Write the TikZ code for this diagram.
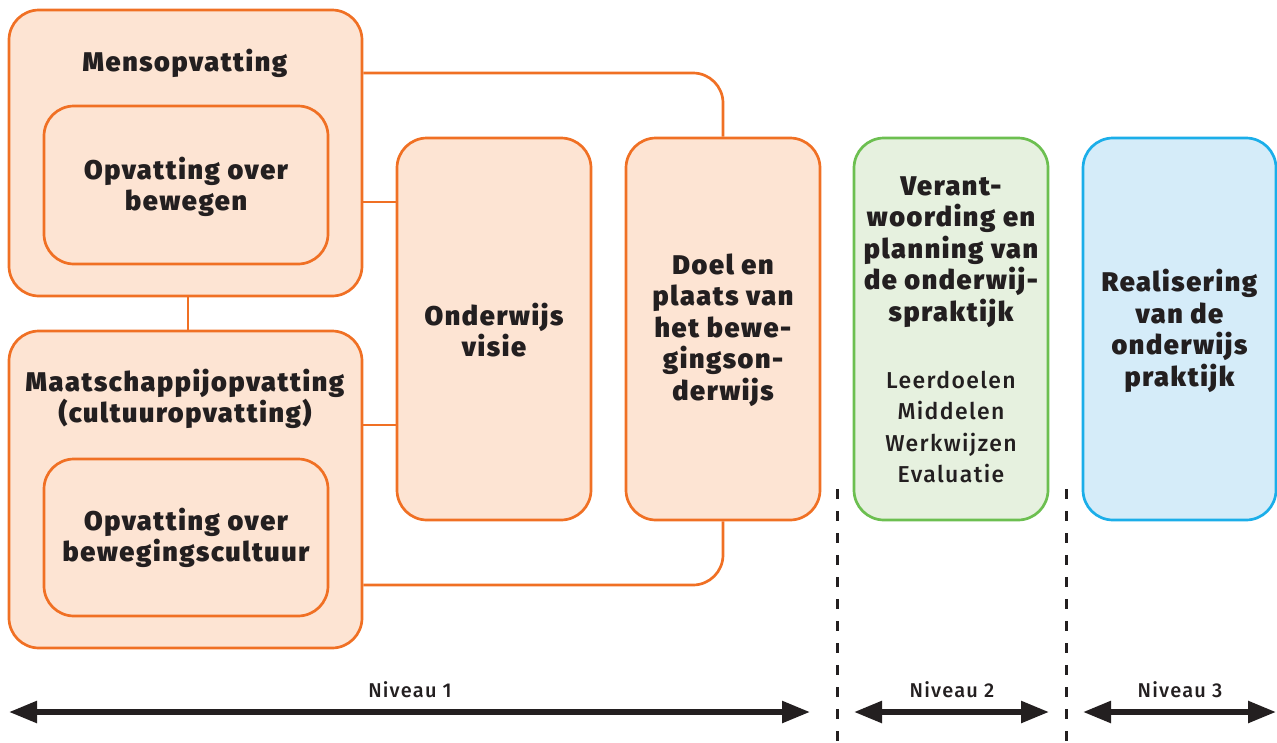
\documentclass[tikz,border=0pt]{standalone}
\usepackage{fontspec}
\setmainfont{Fira Sans}[LetterSpace=6, UprightFont={Fira Sans Medium}, BoldFont={Fira Sans Black}]
\usetikzlibrary{arrows.meta}
\definecolor{ostroke}{HTML}{F07024}
\definecolor{ofill}{HTML}{FDE4D3}
\definecolor{gstroke}{HTML}{6CBF50}
\definecolor{gfill}{HTML}{E6F1DF}
\definecolor{bstroke}{HTML}{1BAEE9}
\definecolor{bfill}{HTML}{D5ECF9}
\definecolor{ink}{HTML}{231F20}
\tikzset{
  box/.style={draw=ostroke, fill=ofill, line width=2.7pt, rounded corners=30pt, inner sep=0pt},
  conn/.style={draw=ostroke, line width=2.7pt},
  title/.style={font=\fontsize{27}{31.5}\selectfont\bfseries, text=ink, align=center},
  plain/.style={font=\fontsize{23}{31.5}\selectfont, text=ink, align=center},
  niv/.style={font=\fontsize{20}{22}\selectfont, text=ink},
  divider/.style={draw=ink, line width=3pt, dash pattern=on 10pt off 12pt},
  span/.style={draw=ink, line width=5.5pt, {Triangle[length=28pt,width=21pt]}-{Triangle[length=28pt,width=21pt]}}
}
\begin{document}
\begin{tikzpicture}[x=1pt,y=-1pt]
\useasboundingbox (0,0) rectangle (1277,742);
% main boxes
\node[box, minimum width=353pt, minimum height=286pt] (mens) at (185.5,153) {};
\node[box, minimum width=284pt, minimum height=158pt] (inner1) at (186,185) {};
\node[box, minimum width=353pt, minimum height=317pt] (maat) at (185.5,489.5) {};
\node[box, minimum width=284pt, minimum height=157pt] (inner2) at (186,537.5) {};
\node[box, minimum width=194pt, minimum height=382pt] (visie) at (494,329) {};
\node[box, minimum width=194pt, minimum height=382pt] (doel) at (723,329) {};
\node[box, draw=gstroke, fill=gfill, minimum width=194pt, minimum height=382pt] (verant) at (951,329) {};
\node[box, draw=bstroke, fill=bfill, minimum width=193pt, minimum height=382pt] (real) at (1179.5,329) {};
% texts
\node[title] (tmens) at (185,63) {Mensopvatting};
\node[title] (tin1) at (186,187) {Opvatting over\\bewegen};
\node[title] (tmaat) at (185,399) {Maatschappijopvatting\\(cultuuropvatting)};
\node[title] (tin2) at (186,538) {Opvatting over\\bewegingscultuur};
\node[title] (tvisie) at (494,330) {Onderwijs\\visie};
\node[title] (tdoel) at (723,330) {Doel en\\plaats van\\het bewe-\\gingson-\\derwijs};
\node[title] (tverant) at (951,252) {Verant-\\woording en\\planning van\\de onderwij-\\spraktijk};
\node[plain] (tlist) at (951,427) {Leerdoelen\\Middelen\\Werkwijzen\\Evaluatie};
\node[title] (treal) at (1179.5,331) {Realisering\\van de\\onderwijs\\praktijk};
% connectors
\draw[conn, rounded corners=30pt] (mens.east |- 0,73) -| (doel.north);
\draw[conn] (mens.east |- 0,202) -- (visie.west |- 0,202);
\draw[conn] (mens.south -| 188,0) -- (maat.north -| 188,0);
\draw[conn] (maat.east |- 0,425) -- (visie.west |- 0,425);
\draw[conn, rounded corners=30pt] (maat.east |- 0,585) -| (doel.south);
% dividers
\coordinate (d1t) at (837,489);
\coordinate (d1b) at (837,742);
\coordinate (d2t) at (1066,489);
\coordinate (d2b) at (1066,742);
\draw[divider] (d1t) -- (d1b);
\draw[divider] (d2t) -- (d2b);
% level arrows
\coordinate (a1l) at (9,712);
\coordinate (a1r) at (810,712);
\coordinate (a2l) at (854,712);
\coordinate (a2r) at (1049,712);
\coordinate (a3l) at (1083,712);
\coordinate (a3r) at (1276,712);
\draw[span] (a1l) -- (a1r);
\draw[span] (a2l) -- (a2r);
\draw[span] (a3l) -- (a3r);
\node[niv] (n1) at (410,690) {Niveau 1};
\node[niv] (n2) at (952,690) {Niveau 2};
\node[niv] (n3) at (1180,690) {Niveau 3};
\end{tikzpicture}
\end{document}
